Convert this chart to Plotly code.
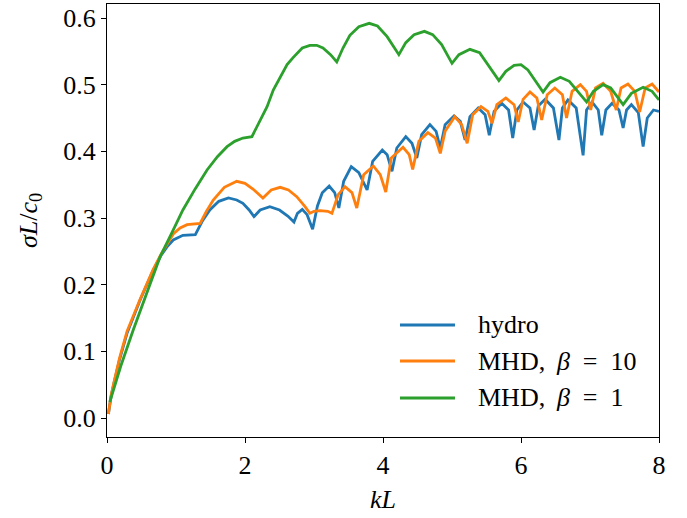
import plotly.graph_objects as go

# ---- data ----
kl_hydro = [0.02, 0.06, 0.10, 0.18, 0.29, 0.48, 0.67, 0.79, 0.88, 0.96, 1.10, 1.28, 1.38, 1.49, 1.62, 1.76, 1.88, 1.97, 2.06, 2.13,
            2.22, 2.36, 2.50, 2.62, 2.71, 2.76, 2.83, 2.90, 2.98, 3.05, 3.12, 3.22, 3.30, 3.36, 3.43, 3.54, 3.65, 3.77,
            3.85, 3.99, 4.06, 4.13, 4.20, 4.33, 4.42, 4.49, 4.56, 4.68, 4.77, 4.83, 4.90, 5.03, 5.12, 5.19, 5.26, 5.38,
            5.48, 5.54, 5.61, 5.72, 5.82, 5.88, 5.94, 6.03, 6.13, 6.19, 6.25, 6.35, 6.47, 6.55, 6.60, 6.68, 6.80, 6.90,
            6.95, 7.03, 7.12, 7.17, 7.23, 7.32, 7.42, 7.48, 7.53, 7.60, 7.70, 7.77, 7.83, 7.92, 8.00]
sig_hydro = [0.006, 0.033, 0.052, 0.087, 0.127, 0.177, 0.222, 0.245, 0.258, 0.267, 0.274, 0.275, 0.295, 0.312, 0.325, 0.330, 0.327,
             0.322, 0.312, 0.302, 0.312, 0.317, 0.312, 0.303, 0.294, 0.307, 0.313, 0.305, 0.283, 0.318, 0.338, 0.348,
             0.338, 0.315, 0.355, 0.377, 0.368, 0.342, 0.385, 0.402, 0.395, 0.370, 0.405, 0.422, 0.412, 0.390, 0.425,
             0.440, 0.430, 0.405, 0.440, 0.453, 0.445, 0.417, 0.452, 0.465, 0.455, 0.424, 0.460, 0.472, 0.462, 0.420,
             0.462, 0.474, 0.465, 0.432, 0.468, 0.478, 0.465, 0.417, 0.465, 0.477, 0.465, 0.394, 0.462, 0.474, 0.462,
             0.424, 0.462, 0.472, 0.462, 0.435, 0.462, 0.470, 0.458, 0.407, 0.450, 0.462, 0.460]

kl_mhd10 = [0.02, 0.06, 0.10, 0.18, 0.29, 0.48, 0.67, 0.79, 0.88, 0.96, 1.06, 1.16, 1.35, 1.44, 1.54, 1.70, 1.88, 2.00, 2.12, 2.26,
            2.38, 2.51, 2.63, 2.75, 2.87, 2.94, 3.00, 3.09, 3.20, 3.26, 3.35, 3.45, 3.55, 3.62, 3.72, 3.86, 3.96, 4.04,
            4.12, 4.29, 4.38, 4.43, 4.52, 4.65, 4.76, 4.83, 4.90, 5.04, 5.14, 5.22, 5.30, 5.42, 5.52, 5.58, 5.65, 5.78,
            5.90, 5.96, 6.03, 6.13, 6.23, 6.30, 6.38, 6.49, 6.60, 6.66, 6.74, 6.86, 6.95, 7.01, 7.08, 7.19, 7.30, 7.38,
            7.45, 7.55, 7.65, 7.72, 7.80, 7.90, 8.00]
sig_mhd10 = [0.006, 0.034, 0.053, 0.089, 0.130, 0.178, 0.223, 0.247, 0.262, 0.276, 0.285, 0.290, 0.292, 0.310, 0.327, 0.346, 0.355,
             0.352, 0.343, 0.330, 0.342, 0.346, 0.342, 0.332, 0.317, 0.307, 0.310, 0.311, 0.310, 0.307, 0.335, 0.347,
             0.338, 0.315, 0.365, 0.378, 0.365, 0.339, 0.390, 0.406, 0.395, 0.373, 0.415, 0.428, 0.420, 0.397, 0.430,
             0.452, 0.440, 0.412, 0.455, 0.467, 0.460, 0.442, 0.470, 0.480, 0.470, 0.444, 0.478, 0.489, 0.480, 0.447,
             0.485, 0.495, 0.485, 0.450, 0.490, 0.500, 0.490, 0.462, 0.495, 0.502, 0.490, 0.462, 0.495, 0.501, 0.490,
             0.459, 0.495, 0.501, 0.489]

kl_mhd1 = [0.04, 0.10, 0.20, 0.38, 0.55, 0.77, 0.95, 1.10, 1.28, 1.45, 1.60, 1.74, 1.85, 1.97, 2.10, 2.22, 2.32, 2.41, 2.51,
           2.61, 2.70, 2.83, 2.94, 3.04, 3.13, 3.24, 3.33, 3.42, 3.52, 3.65, 3.80, 3.92, 4.06, 4.15, 4.23, 4.33, 4.45,
           4.60, 4.72, 4.85, 5.00, 5.10, 5.26, 5.40, 5.55, 5.68, 5.78, 5.90, 6.00, 6.10, 6.20, 6.32, 6.42, 6.57, 6.70,
           6.82, 6.95, 7.05, 7.19, 7.30, 7.40, 7.48, 7.60, 7.77, 7.90, 8.00]
sig_mhd1 = [0.024, 0.045, 0.078, 0.132, 0.180, 0.242, 0.280, 0.312, 0.344, 0.372, 0.392, 0.407, 0.415, 0.420, 0.422, 0.447,
            0.467, 0.492, 0.512, 0.530, 0.541, 0.555, 0.559, 0.559, 0.555, 0.545, 0.534, 0.555, 0.574, 0.587, 0.592,
            0.588, 0.572, 0.558, 0.545, 0.563, 0.575, 0.580, 0.575, 0.560, 0.532, 0.545, 0.553, 0.548, 0.525, 0.506,
            0.520, 0.529, 0.530, 0.522, 0.507, 0.489, 0.503, 0.511, 0.505, 0.490, 0.474, 0.490, 0.500, 0.495, 0.482,
            0.470, 0.487, 0.496, 0.490, 0.477]

series_names = ["hydro", "MHD,\u2009 <i>β</i>\u2002=\u200210", "MHD,\u2009 <i>β</i>\u2002=\u20021"]
colors = ["#1f77b4", "#ff7f0e", "#2ca02c"]

x_ticks = [0, 2, 4, 6, 8]
y_ticks = [0.0, 0.1, 0.2, 0.3, 0.4, 0.5, 0.6]

FONT = "Liberation Serif"
FS = 26

fig = go.Figure()
for xs, ys, name, c in zip([kl_hydro, kl_mhd10, kl_mhd1], [sig_hydro, sig_mhd10, sig_mhd1], series_names, colors):
    fig.add_trace(go.Scatter(x=xs, y=ys, mode="lines", name=name, showlegend=False,
                             line=dict(color=c, width=2.8)))

# legend drawn in paper coordinates (matplotlib-like, no frame)
leg_y = [0.2587, 0.1755, 0.0901]
for name, c, yy in zip(series_names, colors, leg_y):
    fig.add_shape(type="line", xref="paper", yref="paper", x0=0.5308, x1=0.6304, y0=yy, y1=yy,
                  line=dict(color=c, width=2.8))
    fig.add_annotation(xref="paper", yref="paper", x=0.6685, y=yy, text=name, showarrow=False,
                       xanchor="left", yanchor="middle", font=dict(family=FONT, size=FS, color="black"))

axis_common = dict(showgrid=False, zeroline=False, showline=True, linecolor="black", linewidth=1.2,
                   mirror=True, ticks="outside", ticklen=5, tickwidth=1.2, tickcolor="black",
                   tickfont=dict(family=FONT, size=FS, color="black"))

fig.update_layout(
    width=687, height=518,
    margin=dict(l=107, r=28, t=4, b=81),
    paper_bgcolor="white", plot_bgcolor="white",
    font=dict(family=FONT, size=FS, color="black"),
    xaxis=dict(range=[0, 8], tickvals=x_ticks, ticktext=[str(v) for v in x_ticks],
               title=dict(text="<i>kL</i>", font=dict(family=FONT, size=FS), standoff=10), **axis_common),
    yaxis=dict(range=[-0.0285, 0.621], tickvals=y_ticks, ticktext=[f"{v:.1f}" for v in y_ticks],
               title=dict(text="<i>σL</i>/<i>c</i><sub>0</sub>", font=dict(family=FONT, size=FS), standoff=18),
               **axis_common),
    showlegend=False,
)

fig.write_html("out.html")
